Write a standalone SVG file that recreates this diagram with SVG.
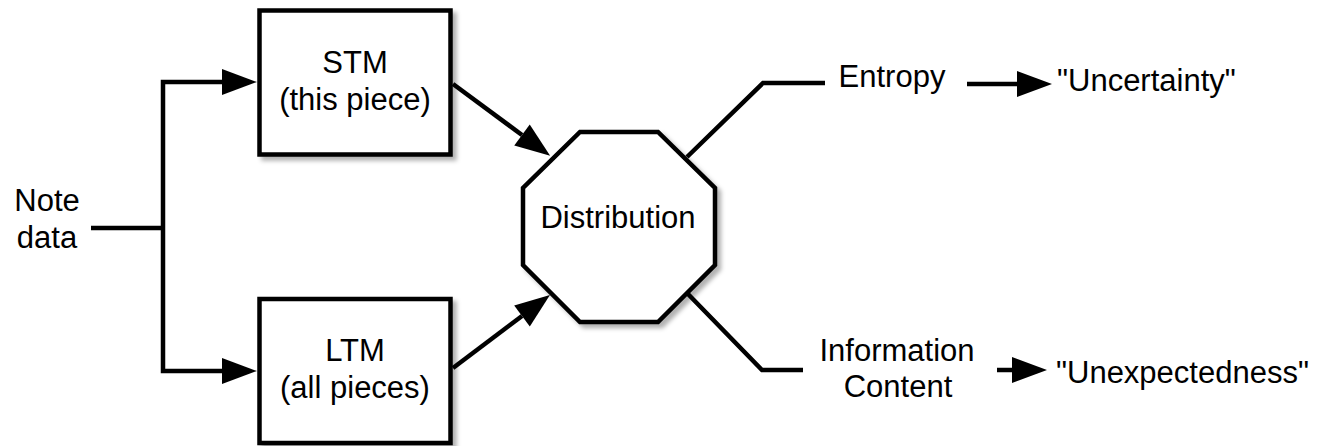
<svg xmlns="http://www.w3.org/2000/svg" width="1317" height="446" viewBox="0 0 1317 446">
<style>
text{font-family:"Liberation Sans",Arial,Helvetica,sans-serif;font-size:31px;fill:#000}
.c{text-anchor:middle}
.shape{fill:#fff;stroke:#000;stroke-width:4.5;filter:url(#sh)}
.ln{fill:none;stroke:#000;stroke-width:4.5}
.arr{marker-end:url(#ah)}
</style>
<defs>
<filter id="sh" x="-10%" y="-10%" width="130%" height="130%">
<feDropShadow dx="4" dy="4" stdDeviation="2" flood-color="#000" flood-opacity="0.3"/>
</filter>
<marker id="ah" markerUnits="userSpaceOnUse" markerWidth="36" markerHeight="27" refX="0" refY="13" orient="auto" overflow="visible">
<path d="M0,0 L35,13 L0,26 Z" fill="#000"/>
</marker>
</defs>
<rect width="1317" height="446" fill="#fff"/>
<g id="connectors">
<path class="ln" d="M91,228 H163"/>
<path class="ln arr" d="M163,228 V82 H222"/>
<path class="ln arr" d="M163,228 V371 H222"/>
<path class="ln arr" d="M453,84 L522,135"/>
<path class="ln arr" d="M453,368 L522,316"/>
<path class="ln" d="M687,157 L763,83 H825"/>
<path class="ln" d="M688,294 L762,370 H803"/>
<path class="ln arr" d="M967,84 H1017"/>
<path class="ln arr" d="M997,370 H1012"/>
</g>
<g id="note-data">
<text class="c" x="47" y="211">Note</text>
<text class="c" x="47" y="248">data</text>
</g>
<g id="stm">
<rect class="shape" x="259.5" y="10.5" width="191" height="144"/>
<text class="c" x="355" y="73">STM</text>
<text class="c" x="355" y="110">(this piece)</text>
</g>
<g id="ltm">
<rect class="shape" x="259.5" y="299" width="191" height="144"/>
<text class="c" x="355" y="361">LTM</text>
<text class="c" x="355" y="398">(all pieces)</text>
</g>
<g id="distribution">
<polygon class="shape" points="580,132 658,132 715,188 715,265 658,322 580,322 523,265 523,188"/>
<text class="c" x="618" y="228">Distribution</text>
</g>
<g id="entropy">
<text class="c" x="892" y="87">Entropy</text>
</g>
<g id="uncertainty">
<text x="1057" y="91">"Uncertainty"</text>
</g>
<g id="information-content">
<text class="c" x="897" y="361">Information</text>
<text class="c" x="898" y="397">Content</text>
</g>
<g id="unexpectedness">
<text x="1056" y="383">"Unexpectedness"</text>
</g>
</svg>
